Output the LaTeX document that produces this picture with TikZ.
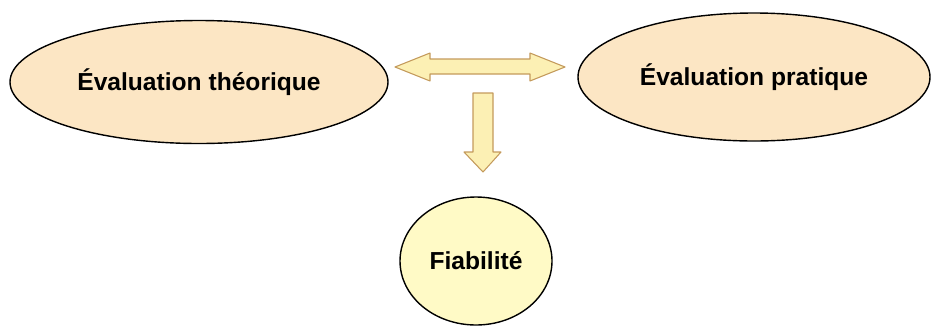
\documentclass[tikz,border=0pt]{standalone}
\usepackage{fontspec}
\setmainfont{Liberation Sans}
\usepackage{tikz}
\usetikzlibrary{shapes.geometric,positioning,calc}
\definecolor{color1}{HTML}{FCE6C4}
\definecolor{color2}{HTML}{FFFAC6}
\definecolor{color3}{HTML}{FCF0B4}
\definecolor{color4}{HTML}{C49A5C}
\newlength{\EvalFigureUnit}
\setlength{\EvalFigureUnit}{0.3mm}
\newcommand{\EvalFigureFont}{\fontsize{21pt}{25pt}\selectfont}

\begin{document}
\begin{tikzpicture}[x=\EvalFigureUnit,y=-\EvalFigureUnit]
            \tikzset{
                eval bubble/.style={draw=black, fill=color1, line width=1.2pt,
                    ellipse, inner sep=0pt, font=\EvalFigureFont\bfseries},
                eval result/.style={eval bubble, fill=color2},
                eval arrow/.style={draw=color4, fill=color3, line width=0.9pt,
                    line join=round}
            }
            \useasboundingbox (0,0) rectangle (932,326);
            \node[eval bubble, minimum width=378\EvalFigureUnit,
                minimum height=123\EvalFigureUnit] (eval-theory) at (199,82)
                {Évaluation théorique};
            \node[eval bubble, minimum width=352\EvalFigureUnit,
                minimum height=128\EvalFigureUnit] (eval-practice) at (754,77)
                {Évaluation pratique};
            \node[eval result, minimum width=152\EvalFigureUnit,
                minimum height=128\EvalFigureUnit] (eval-reliability) at (476,261)
                {Fiabilité};

            % double arrow between the two evaluations
            \coordinate (eval-link-west) at (395,67);
            \coordinate (eval-link-east) at (565,67);
            \draw[eval arrow] (eval-link-west) -- ++(35,-14) -- ++(0,6) -- ++(100,0)
                -- ++(0,-6) -- (eval-link-east) -- ++(-35,14) -- ++(0,-7)
                -- ++(-100,0) -- ++(0,7) -- cycle;

            % arrow down to the result
            \coordinate (eval-down-top) at (483,93);
            \coordinate (eval-down-tip) at (483,172);
            \draw[eval arrow] ($(eval-down-top)+(-10,0)$) -- ++(20,0) -- ++(0,59)
                -- ++(8,0) -- (eval-down-tip) -- ++(-19,-20) -- ++(9,0) -- cycle;
        \end{tikzpicture}
\end{document}
